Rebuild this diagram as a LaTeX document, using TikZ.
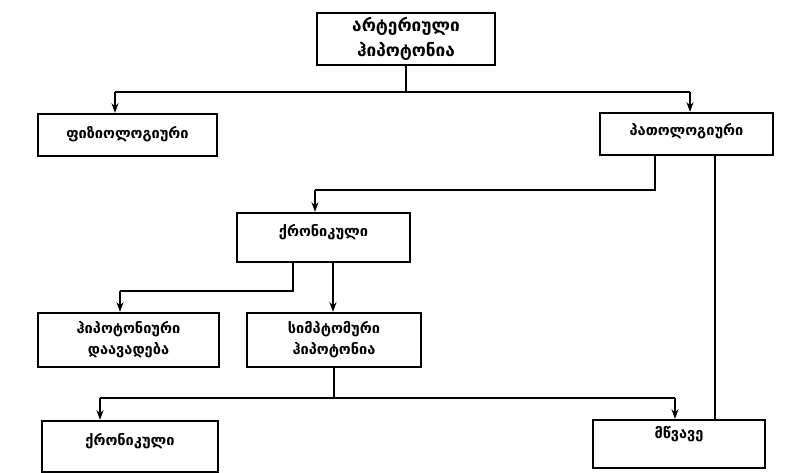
\documentclass[tikz,border=0pt]{standalone}
\usepackage{fontspec}
\newfontfamily\geofont{DejaVu Sans}
\usepackage{tikz}
\usetikzlibrary{positioning, arrows.meta}

\begin{document}
\begin{tikzpicture}[
    x=0.02cm, y=-0.02cm,
    box/.style={draw, rectangle, line width=1.3pt, align=center, inner sep=2pt,
        font=\geofont\bfseries\fontsize{8.3}{12}\selectfont},
    wire/.style={line width=1.3pt},
    arrow/.style={-{Stealth[length=5.5pt, width=4pt]}, line width=1.1pt}
]
    \useasboundingbox (0,0) rectangle (792,473);

    % Sommet
    \node[box, minimum width=3.56cm, minimum height=1.04cm, font=\geofont\bfseries\fontsize{9.8}{14}\selectfont] (hypo) at (406,39) {არტერიული\\ჰიპოტონია};

    % Premier niveau
    \node[box, minimum width=3.58cm, minimum height=0.84cm, text depth=0.12cm] (physio) at (127.5,135) {ფიზიოლოგიური};
    \node[box, minimum width=3.46cm, minimum height=0.84cm, text depth=0.2cm] (patho) at (686.5,134) {პათოლოგიური};

    % Deuxième niveau
    \node[box, minimum width=3.46cm, minimum height=0.98cm, text depth=0.3cm] (chron) at (323.5,237.5) {ქრონიკული};

    % Troisième niveau
    \node[box, minimum width=3.62cm, minimum height=1.08cm] (disease) at (128.5,340) {ჰიპოტონიური\\დაავადება};
    \node[box, minimum width=3.48cm, minimum height=1.08cm] (sympt) at (334,340) {სიმპტომური\\ჰიპოტონია};

    % Niveau du bas
    \node[box, minimum width=3.52cm, minimum height=1.02cm, text depth=0.3cm] (chronlow) at (130,446.5) {ქრონიკული};
    \node[box, minimum width=3.44cm, minimum height=0.96cm, text depth=0.45cm] (acute) at (679,444) {მწვავე};

    % Bus 1
    \coordinate (b1l) at (115,92);
    \coordinate (b1r) at (690,92);
    \draw[wire] (hypo.south) -- (hypo.south |- b1l);
    \draw[wire] (b1l) -- (b1r);
    \draw[arrow] (b1l) -- (b1l |- physio.north);
    \draw[arrow] (b1r) -- (b1r |- patho.north);

    % Bus 2
    \coordinate (b2r) at (655,190);
    \coordinate (b2l) at (315,190);
    \draw[wire] (b2r |- patho.south) -- (b2r) -- (b2l);
    \draw[arrow] (b2l) -- (b2l |- chron.north);
    \coordinate (b2a) at (715,190);
    \draw[wire] (b2a |- patho.south) -- (b2a |- acute.north);

    % Bus 3
    \coordinate (b3r) at (293,291);
    \coordinate (b3l) at (120,291);
    \coordinate (b3s) at (333,291);
    \draw[wire] (b3r |- chron.south) -- (b3r) -- (b3l);
    \draw[arrow] (b3l) -- (b3l |- disease.north);
    \draw[arrow] (b3s |- chron.south) -- (b3s |- sympt.north);

    % Bus 4
    \coordinate (b4l) at (100,398);
    \coordinate (b4r) at (675,398);
    \draw[wire] (sympt.south) -- (sympt.south |- b4l);
    \draw[wire] (b4l) -- (b4r);
    \draw[arrow] (b4l) -- (b4l |- chronlow.north);
    \draw[arrow] (b4r) -- (b4r |- acute.north);
\end{tikzpicture}
\end{document}
